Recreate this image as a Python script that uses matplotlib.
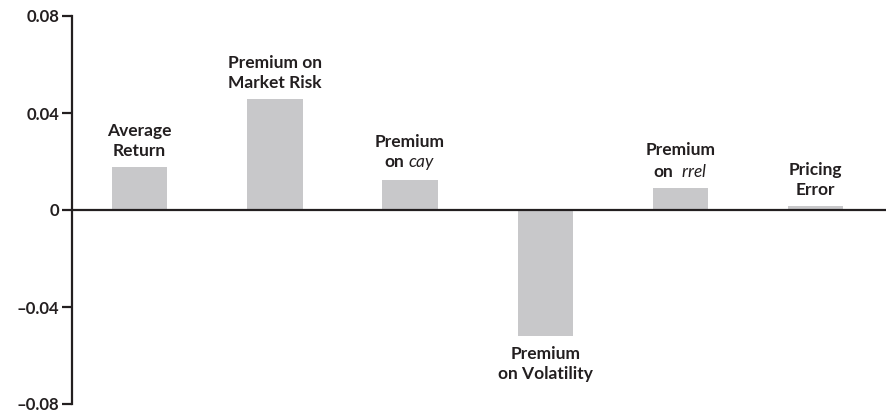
import matplotlib
matplotlib.use("Agg")
from matplotlib import pyplot as plt

# bar values
labels = ["Average\nReturn", "Premium on\nMarket Risk", "Premium\non $cay$",
          "Premium\non Volatility", "Premium\non  $rrel$", "Pricing\nError"]
values = [0.0177, 0.0458, 0.0124, -0.052, 0.0091, 0.0016]
yticks = [-0.08, -0.04, 0, 0.04, 0.08]
ytick_labels = ["\u20130.08", "\u20130.04", "0", "0.04", "0.08"]

ink = "#231f20"
plt.rcParams["font.family"] = ["Lato", "DejaVu Sans"]
plt.rcParams["mathtext.fontset"] = "custom"
plt.rcParams["mathtext.it"] = "Lato:italic"
plt.rcParams["mathtext.rm"] = "Lato"

fig = plt.figure(figsize=(8.86, 4.12), dpi=100)
ax = fig.add_axes([72 / 886, 8 / 412, 1 - 72 / 886, 388 / 412])

x = list(range(len(values)))
ax.bar(x, values, width=0.41, color="#c8c8ca", zorder=1)
ax.axhline(0, color=ink, lw=1.6, zorder=2)

for xi, v, lab in zip(x, values, labels):
    if v >= 0:
        ax.annotate(lab, (xi, v), xytext=(0, 6), textcoords="offset points",
                    ha="center", va="bottom", fontsize=12.5, fontweight="bold",
                    color=ink, linespacing=1.3)
    else:
        ax.annotate(lab, (xi, v), xytext=(0, -7), textcoords="offset points",
                    ha="center", va="top", fontsize=12.5, fontweight="bold",
                    color=ink, linespacing=1.3)

ax.set_xlim(-0.5, 5.52)
ax.set_ylim(-0.08, 0.08)
ax.set_yticks(yticks)
ax.set_yticklabels(ytick_labels, fontsize=12, fontweight="bold", color=ink)
ax.tick_params(axis="y", length=7, width=1.6, color=ink, pad=2)
ax.set_xticks([])
for s in ["top", "right", "bottom"]:
    ax.spines[s].set_visible(False)
ax.spines["left"].set_linewidth(1.6)
ax.spines["left"].set_color(ink)

fig.savefig("out.png", dpi=100)
